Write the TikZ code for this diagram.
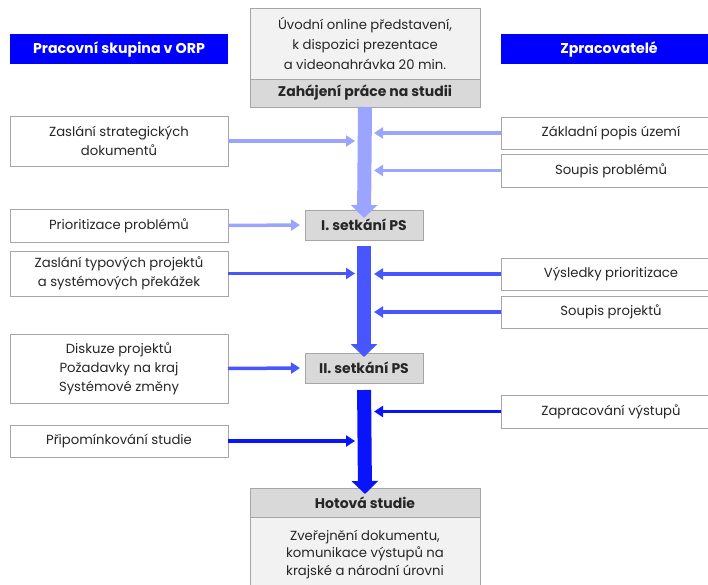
\documentclass[tikz,border=0pt]{standalone}
\usepackage{fontspec}
\setmainfont{Poppins}
\usetikzlibrary{arrows.meta}
\definecolor{hblue}{RGB}{0,0,255}
\definecolor{lightA}{RGB}{155,165,255}
\definecolor{medA}{RGB}{72,86,255}
\definecolor{darkA}{RGB}{10,20,250}
\definecolor{bordr}{RGB}{166,166,166}
\definecolor{paleF}{RGB}{242,242,242}
\definecolor{greyF}{RGB}{217,217,217}
\begin{document}
\begin{tikzpicture}[x=1pt,y=-1pt,
  every node/.style={inner sep=0pt,outer sep=0pt,font=\fontsize{13.2}{19}\selectfont,text=black!85},
  hdr/.style={fill=hblue,text=white,font=\fontsize{14.2}{19}\selectfont\bfseries,minimum height=30pt},
  sbox/.style={draw=bordr,line width=0.8pt,fill=white,align=center},
  lbox/.style={sbox,minimum width=218pt},
  rbox/.style={sbox,minimum width=220pt},
  pale/.style={draw=bordr,line width=0.8pt,fill=paleF,align=center,minimum width=230pt},
  grey/.style={draw=bordr,line width=0.8pt,fill=greyF,font=\fontsize{14}{19}\selectfont\bfseries},
  bigarr/.style={line width=14pt,-{Triangle[width=26pt,length=13pt]}},
  smallarr/.style={line width=3.5pt,-{Triangle[width=11pt,length=9pt]}}
]
\useasboundingbox (0,0) rectangle (708,585);
% headers
\node[hdr,minimum width=218pt] (hdrL) at (119,49.5) {Pracovní skupina v ORP};
\node[hdr,minimum width=220pt] (hdrR) at (611,49.5) {\hspace*{-4pt}Zpracovatelé};
% top box
\node[pale,minimum height=71pt,font=\fontsize{13.2}{20}\selectfont] (topA) at (365,43.5) {Úvodní online představení,\\k dispozici prezentace\\a videonahrávka 20 min.};
\node[grey,minimum width=230pt,minimum height=28pt] (topB) at (365,93) {Zahájení práce na studii};
% meetings
\node[grey,minimum width=118pt,minimum height=30pt] (S1) at (364,225) {I. setkání PS};
\node[grey,minimum width=118pt,minimum height=30pt] (S2) at (364,368) {II. setkání PS};
% final box
\node[grey,minimum width=230pt,minimum height=29pt] (endA) at (365,502.5) {Hotová studie};
\node[pale,minimum height=75pt,anchor=north,font=\fontsize{13.2}{17.5}\selectfont] (endB) at (365,517) {Zveřejnění dokumentu,\\komunikace výstupů na\\krajské a národní úrovni};
% left boxes
\node[lbox,minimum height=50pt] (L1) at (119,141) {Zaslání strategických\\dokumentů};
\node[lbox,minimum height=33pt] (L2) at (119,225.5) {Prioritizace problémů};
\node[lbox,minimum height=45pt] (L3) at (119,273.5) {Zaslání typových projektů\\a systémových překážek};
\node[lbox,minimum height=69pt] (L4) at (119,368.5) {Diskuze projektů\\Požadavky na kraj\\Systémové změny};
\node[lbox,minimum height=32pt] (L5) at (119,441) {Připomínkování studie};
% right boxes
\node[rbox,minimum height=32pt] (R1) at (611,133) {Základní popis území};
\node[rbox,minimum height=33pt] (R2) at (611,170.5) {Soupis problémů};
\node[rbox,minimum height=32pt] (R3) at (611,274) {Výsledky prioritizace};
\node[rbox,minimum height=32pt] (R4) at (611,312) {Soupis projektů};
\node[rbox,minimum height=33pt] (R5) at (611,411.5) {Zapracování výstupů};
% shaft reference coordinates
\coordinate (shL) at (355,0);
\coordinate (shR) at (374,0);
% big vertical arrows
\draw[bigarr,draw=lightA] (topB.south) -- ([yshift=-8pt]S1.north);
\draw[bigarr,draw=medA,shorten <=6pt] (S1.south) -- ([yshift=-4pt]S2.north);
\draw[bigarr,draw=darkA,shorten <=7pt] (S2.south) -- ([yshift=-6pt]endA.north);
% small arrows, phase 1
\draw[smallarr,draw=lightA] (L1.east) -- (L1.east -| shL);
\draw[smallarr,draw=lightA] (R1.west) -- (R1.west -| shR);
\draw[smallarr,draw=lightA] (R2.west) -- (R2.west -| shR);
\draw[smallarr,draw=lightA,shorten >=5pt] (L2.east) -- (S1.west);
% phase 2
\draw[smallarr,draw=medA] (L3.east) -- (L3.east -| shL);
\draw[smallarr,draw=medA] (R3.west) -- (R3.west -| shR);
\draw[smallarr,draw=medA] (R4.west) -- (R4.west -| shR);
\draw[smallarr,draw=medA,shorten >=5pt] (L4.east) -- (S2.west);
% phase 3
\draw[smallarr,draw=darkA] (R5.west) -- (R5.west -| shR);
\draw[smallarr,draw=darkA] (L5.east) -- (L5.east -| shL);
\end{tikzpicture}
\end{document}
